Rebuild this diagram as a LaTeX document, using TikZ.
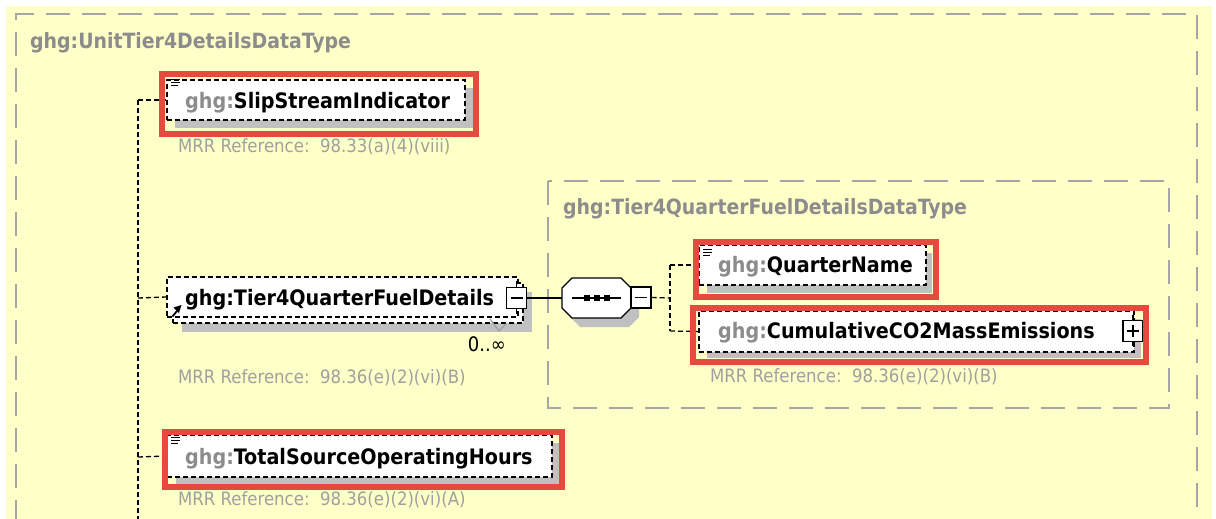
\documentclass[tikz,border=0pt]{standalone}
\usepackage{fontspec}
\usetikzlibrary{arrows.meta}
\newfontfamily\tah{DejaVu Sans Condensed}
\definecolor{bgyel}{RGB}{255,255,200}
\definecolor{fgray}{RGB}{165,165,165}
\definecolor{tgray}{RGB}{140,140,140}
\definecolor{mgray}{RGB}{160,160,160}
\definecolor{shgray}{RGB}{192,192,192}
\definecolor{hlred}{RGB}{228,74,62}
\tikzset{
  frame/.style={draw=fgray, line width=2pt, dash pattern=on 24pt off 12pt},
  conn/.style={draw=black, line width=1.3pt, dash pattern=on 5pt off 3pt},
  elbox/.style={rectangle, draw=black, fill=white, line width=1.3pt, dash pattern=on 5pt off 3pt, minimum height=40pt, inner sep=0pt},
  shadowbox/.style={fill=shgray, draw=none},
  hl/.style={draw=hlred, line width=5.5pt},
  btn/.style={rectangle, draw=black, fill=white, line width=1.3pt, minimum width=20pt, minimum height=21pt, inner sep=0pt},
  solidln/.style={draw=black, line width=1.3pt},
  lbl/.style={anchor=base west, inner sep=0pt, font=\tah\bfseries\fontsize{21.3}{25}\selectfont},
  ttl/.style={anchor=base west, inner sep=0pt, text=tgray, font=\tah\bfseries\fontsize{21}{25}\selectfont},
  mrr/.style={anchor=base west, inner sep=0pt, text=mgray, font=\tah\fontsize{18.4}{22}\selectfont},
  listicon/.pic={\draw[line width=1.2pt] (0,0) -- (9,0) (0,3) -- (9,3) (0,6) -- (7,6);}
}
\newcommand{\gh}{\textcolor{tgray}{ghg:}}
\begin{document}
\begin{tikzpicture}[x=1pt,y=-1pt]
\useasboundingbox (0,0) rectangle (1216,519);
\clip (0,0) rectangle (1216,519);
\fill[white] (0,0) rectangle (1216,519);
\fill[bgyel] (6,6) rectangle (1212,530);
% frames
\draw[frame] (16,560) -- (16,14) -- (1197,14) -- (1197,560);
\draw[frame] (548,181) rectangle (1169,408);
\node[ttl] (t1) at (30,49) {ghg:UnitTier4DetailsDataType};
\node[ttl] (t2) at (563,214) {ghg:Tier4QuarterFuelDetailsDataType};
% spine coordinates
\coordinate (s1) at (138,100);
\coordinate (s2) at (138,298);
\coordinate (s3) at (138,457);
\coordinate (s4) at (138,530);
% shadows
\fill[shadowbox] (175,88) rectangle (473,128);
\fill[shadowbox] (182,292) rectangle (532,332);
\fill[shadowbox] (176,443) rectangle (559,484);
\fill[shadowbox] (707,253) rectangle (932,293);
\fill[shadowbox] (707,319) rectangle (1141,358);
% element boxes
\node[elbox, minimum width=298pt] (slip) at (316,100) {};
\node[elbox, minimum width=350pt] (tierb) at (348,303) {};
\node[elbox, minimum width=351pt] (tier) at (342.5,297) {};
\node[elbox, minimum width=385pt, minimum height=42pt] (total) at (359.5,456) {};
\node[elbox, minimum width=227pt] (qn) at (812.5,265) {};
\node[elbox, minimum width=435pt, minimum height=41pt] (co2) at (916.5,331.5) {};
% connectors
\draw[conn] (s1) -- (s4);
\draw[conn] (s1) -- (slip.west);
\draw[conn] (s2) -- (tier.west);
\draw[conn] (s3) -- (total.west);
% tier buttons
\node[btn] (tiermin) at (516.5,298) {};
\draw[solidln] (tiermin.north) -- ++(0,-6);
\draw[solidln] (tiermin.south) -- ++(0,5);
\draw[solidln] ([xshift=-6pt]tiermin.center) -- ([xshift=6pt]tiermin.center);
\draw[mgray, line width=1.3pt] (490,319) -- (499,331) -- (506,324);
\node[anchor=base east, inner sep=0pt, font=\tah\fontsize{20}{24}\selectfont] (mult) at (506,351) {0..∞};
% reference arrow icon
\draw[line width=1.8pt] (172.5,316.5) -- (177,311);
\fill[black] (181.5,305) -- (173.5,307.5) -- (179,313) -- cycle;
% sequence
\coordinate (seqW) at (562,298);
\coordinate (seqE) at (631,298);
\fill[shgray] (570,297) -- (580,287) -- (629,287) -- (639,297) -- (639,317) -- (629,327) -- (580,327) -- (570,317) -- cycle;
\draw[solidln, fill=white] (562,288) -- (572,278) -- (621,278) -- (631,288) -- (631,308) -- (621,318) -- (572,318) -- (562,308) -- cycle;
\draw[solidln] (572,298) -- (621,298);
\foreach \xx in {587,597,607} \fill[black] (\xx-2.8,295.2) rectangle (\xx+2.8,300.8);
\draw[solidln] (tiermin.east) -- (seqW);
\node[btn] (seqmin) at (641,297.5) {};
\draw[solidln] ([xshift=-6pt]seqmin.center) -- ([xshift=6pt]seqmin.center);
% inner spine
\coordinate (q1) at (670,265);
\coordinate (qm) at (670,298);
\coordinate (q2) at (670,331);
\draw[conn] (seqmin.east) -- (qm);
\draw[conn] (q1) -- (q2);
\draw[conn] (q1) -- (qn.west);
\draw[conn] (q2) -- (co2.west);
% co2 plus button
\node[btn] (co2btn) at (1133,331) {};
\draw[solidln] (co2btn.north) -- ++(0,-5);
\draw[solidln] (co2btn.south) -- ++(0,4);
\draw[solidln] ([xshift=-6pt]co2btn.center) -- ([xshift=6pt]co2btn.center);
\draw[solidln] ([yshift=-6pt]co2btn.center) -- ([yshift=6pt]co2btn.center);
% highlights
\draw[hl] (162,74) rectangle (476,134);
\draw[hl] (696,242) rectangle (936,297);
\draw[hl] (693,308) rectangle (1146,362);
\draw[hl] (165,432) rectangle (562,487);
% list icons
\pic at (171,79.5) {listicon};
\pic at (703,249.5) {listicon};
\pic at (171,437.5) {listicon};
% labels
\node[lbl] (l1) at (185,108) {\gh SlipStreamIndicator};
\node[lbl] (l2) at (185,305) {ghg:Tier4QuarterFuelDetails};
\node[lbl] (l3) at (185,464) {\gh TotalSourceOperatingHours};
\node[lbl] (l4) at (718,272) {\gh QuarterName};
\node[lbl] (l5) at (718,338) {\gh CumulativeCO2MassEmissions};
\node[mrr] (m1) at (178,152) {MRR Reference:\ \ 98.33(a)(4)(viii)};
\node[mrr] (m2) at (178,383) {MRR Reference:\ \ 98.36(e)(2)(vi)(B)};
\node[mrr] (m3) at (178,505) {MRR Reference:\ \ 98.36(e)(2)(vi)(A)};
\node[mrr] (m4) at (710,382) {MRR Reference:\ \ 98.36(e)(2)(vi)(B)};
\end{tikzpicture}
\end{document}
